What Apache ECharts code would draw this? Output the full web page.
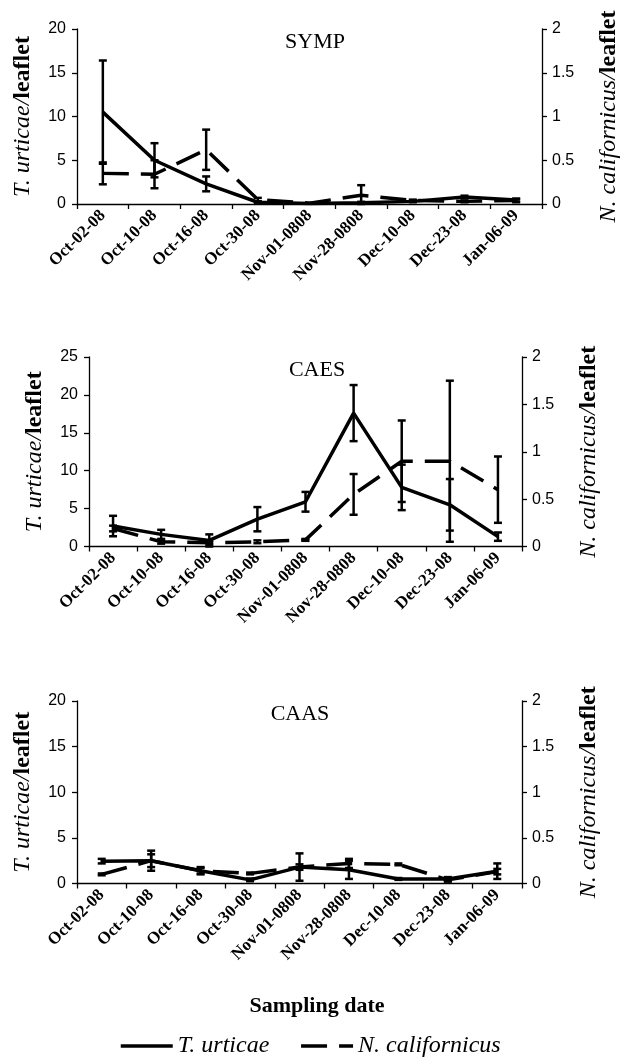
<!DOCTYPE html>
<html><head><meta charset="utf-8">
<script src="https://cdn.jsdelivr.net/npm/echarts@6/dist/echarts.min.js"></script>
<style>html,body{margin:0;padding:0;background:#fff}#c{width:629px;height:1059px}</style>
</head><body><div id="c"></div>
<script>
// ---- data ----
const categories = ['Oct-02-08','Oct-10-08','Oct-16-08','Oct-30-08','Nov-01-0808','Nov-28-0808','Dec-10-08','Dec-23-08','Jan-06-09'];
const panelTitles = ['SYMP','CAES','CAAS'];
const seriesNames = ['T. urticae','N. californicus'];

const sympUrticae    = [10.5, 5.0, 2.3, 0.2, 0.05, 0.15, 0.3, 0.8, 0.45];
const sympUrticaeErr = [5.9, 1.95, 0.85, 0.1, 0.0, 0.1, 0.1, 0.15, 0.15];
const sympCalif      = [0.35, 0.34, 0.62, 0.05, 0.01, 0.1, 0.04, 0.03, 0.04];
const sympCalifErr   = [0.125, 0.16, 0.23, 0.02, 0.0, 0.115, 0.01, 0.01, 0.02];

const caesUrticae    = [2.7, 1.6, 0.8, 3.6, 5.9, 17.6, 7.8, 5.5, 1.3];
const caesUrticaeErr = [1.35, 0.6, 0.8, 1.6, 1.3, 3.7, 3.0, 3.4, 0.55];
const caesCalif      = [0.19, 0.05, 0.04, 0.05, 0.07, 0.55, 0.9, 0.9, 0.6];
const caesCalifErr   = [0.03, 0.02, 0.02, 0.015, 0.01, 0.215, 0.43, 0.85, 0.35];

const caasUrticae    = [2.45, 2.5, 1.4, 0.4, 1.8, 1.5, 0.5, 0.5, 1.35];
const caasUrticaeErr = [0.25, 1.1, 0.4, 0.15, 1.5, 1.0, 0.1, 0.2, 0.85];
const caasCalif      = [0.1, 0.25, 0.14, 0.11, 0.18, 0.22, 0.21, 0.04, 0.13];
const caasCalifErr   = [0.01, 0.07, 0.03, 0.01, 0.03, 0.05, 0.01, 0.02, 0.03];

const leftMax = [20, 25, 20];
const rightMax = [2, 2, 2];
const xTitle = 'Sampling date';

// ---- layout ----
const grids = [
  {left: 77, top: 29, width: 465, height: 175},
  {left: 89, top: 357, width: 433, height: 189.5},
  {left: 77, top: 701, width: 445, height: 182.5}
];
const titleX = [310, 312, 295];
const titleY = [26, 354, 698];

const panels = [
  [sympUrticae, sympUrticaeErr, sympCalif, sympCalifErr],
  [caesUrticae, caesUrticaeErr, caesCalif, caesCalifErr],
  [caasUrticae, caasUrticaeErr, caasCalif, caasCalifErr]
];

const serif = 'Liberation Serif';
const sans = 'Liberation Sans';
const dash = [26, 12];

function errorSeries(vals, errs, gi, yi) {
  return {
    type: 'custom', name: 'err' + gi + '_' + yi, xAxisIndex: gi, yAxisIndex: yi,
    silent: true, z: 4,
    data: vals.map((v, i) => [i, Math.max(0, v - errs[i]), v + errs[i]]),
    renderItem: function (params, api) {
      const x = api.value(0);
      const lo = api.coord([x, api.value(1)]);
      const hi = api.coord([x, api.value(2)]);
      const hw = 4;
      const st = {stroke: '#000', lineWidth: 2.5};
      return {type: 'group', children: [
        {type: 'line', shape: {x1: lo[0], y1: lo[1], x2: hi[0], y2: hi[1]}, style: st},
        {type: 'line', shape: {x1: lo[0] - hw, y1: lo[1], x2: lo[0] + hw, y2: lo[1]}, style: st},
        {type: 'line', shape: {x1: hi[0] - hw, y1: hi[1], x2: hi[0] + hw, y2: hi[1]}, style: st}
      ]};
    }
  };
}

const xAxes = [], yAxes = [], series = [], titles = [];
const axisLineStyle = {color: '#000', width: 1.3};
grids.forEach((g, gi) => {
  xAxes.push({
    type: 'category', gridIndex: gi, data: categories, boundaryGap: true,
    axisLine: {lineStyle: axisLineStyle},
    axisTick: {show: true, length: 5, lineStyle: axisLineStyle, interval: 0},
    axisLabel: {interval: 0, rotate: 45, margin: 9, color: '#000',
      fontFamily: serif, fontWeight: 'bold', fontSize: 17}
  });
  const nameRich = {
    a: {fontFamily: serif, fontStyle: 'italic', fontSize: 24, color: '#000'},
    b: {fontFamily: serif, fontWeight: 'bold', fontSize: 24, color: '#000'}
  };
  yAxes.push({
    type: 'value', gridIndex: gi, position: 'left', min: 0, max: leftMax[gi], interval: 5,
    name: '{a|T. urticae/}{b|leaflet}', nameLocation: 'middle', nameRotate: 90, nameGap: 42,
    nameTextStyle: {rich: nameRich},
    splitLine: {show: false},
    axisLine: {show: true, lineStyle: axisLineStyle},
    axisTick: {show: true, length: 5, lineStyle: axisLineStyle},
    axisLabel: {color: '#000', fontFamily: sans, fontSize: 16, margin: 11}
  });
  yAxes.push({
    type: 'value', gridIndex: gi, position: 'right', min: 0, max: rightMax[gi], interval: 0.5,
    name: '{a|N. californicus/}{b|leaflet}', nameLocation: 'middle', nameRotate: 90, nameGap: 55,
    nameTextStyle: {rich: nameRich},
    splitLine: {show: false},
    axisLine: {show: true, lineStyle: axisLineStyle},
    axisTick: {show: true, length: 5, lineStyle: axisLineStyle},
    axisLabel: {color: '#000', fontFamily: sans, fontSize: 16, margin: 10}
  });
  const p = panels[gi];
  series.push({
    type: 'line', name: seriesNames[0], xAxisIndex: gi, yAxisIndex: gi * 2, data: p[0],
    symbol: 'none', lineStyle: {color: '#000', width: 3.5}, itemStyle: {color: '#000'}, z: 3
  });
  series.push({
    type: 'line', name: seriesNames[1], xAxisIndex: gi, yAxisIndex: gi * 2 + 1, data: p[2],
    symbol: 'none', lineStyle: {color: '#000', width: 3.5, type: dash}, itemStyle: {color: '#000'}, z: 3
  });
  series.push(errorSeries(p[0], p[1], gi, gi * 2));
  series.push(errorSeries(p[2], p[3], gi, gi * 2 + 1));
  titles.push({text: panelTitles[gi], left: titleX[gi], top: titleY[gi], textAlign: 'center',
    textStyle: {fontFamily: serif, fontWeight: 'normal', fontSize: 22, color: '#000'}});
});
titles.push({text: xTitle, left: 312, top: 990, textAlign: 'center',
  textStyle: {fontFamily: serif, fontWeight: 'bold', fontSize: 22, color: '#000'}});

const chart = echarts.init(document.getElementById('c'), null, {renderer: 'canvas'});
chart.setOption({
  animation: false,
  backgroundColor: '#fff',
  title: titles,
  grid: grids,
  xAxis: xAxes,
  yAxis: yAxes,
  legend: {
    left: 114, top: 1029, itemWidth: 52, itemHeight: 14, itemGap: 30,
    data: [
      {name: seriesNames[0], itemStyle: {opacity: 0}, lineStyle: {color: '#000', width: 3.5, type: 'solid'}},
      {name: seriesNames[1], itemStyle: {opacity: 0}, lineStyle: {color: '#000', width: 3.5, type: dash}}
    ],
    textStyle: {fontFamily: serif, fontStyle: 'italic', fontSize: 24, color: '#000'},
    selectedMode: false
  },
  series: series
});
</script></body></html>
